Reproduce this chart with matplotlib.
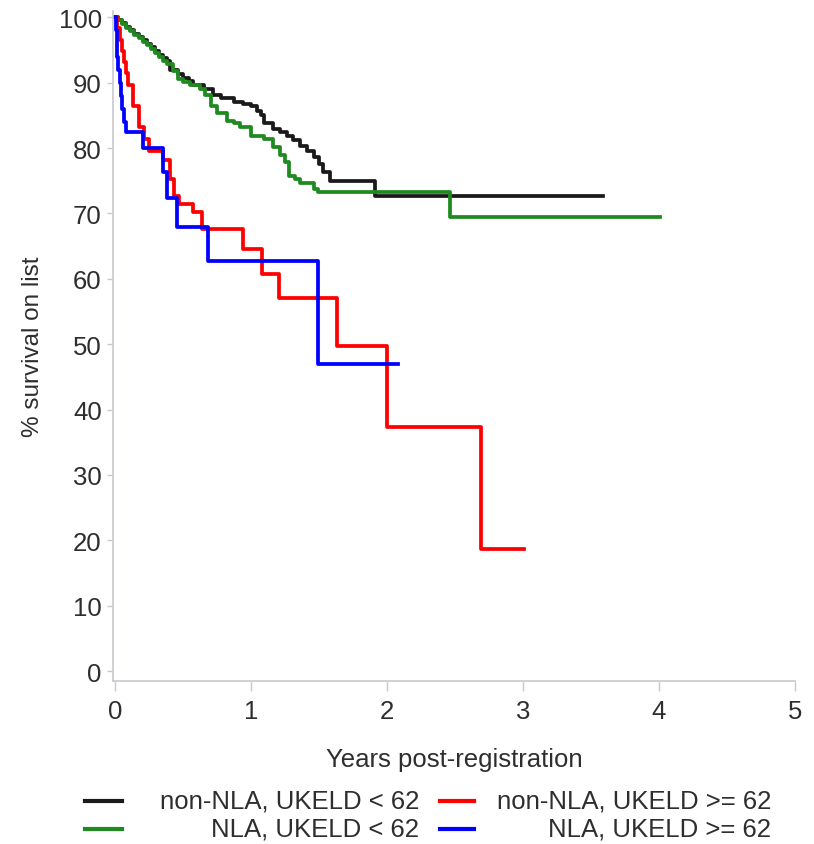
import matplotlib
matplotlib.use('Agg')
from matplotlib import pyplot as plt
from matplotlib.lines import Line2D

# Kaplan-Meier style step data (years, % survival)
black_t = [0, 0.02, 0.05, 0.08, 0.11, 0.14, 0.17, 0.20, 0.23, 0.26, 0.29, 0.32, 0.35, 0.38, 0.40,
           0.46, 0.50, 0.54, 0.57, 0.65, 0.72, 0.78, 0.87, 0.94, 1.00, 1.04, 1.07, 1.09, 1.16,
           1.21, 1.26, 1.31, 1.36, 1.41, 1.46, 1.50, 1.53, 1.58, 1.91, 3.59]
black_s = [100, 99.6, 99.1, 98.5, 98.0, 97.5, 97.0, 96.5, 96.0, 95.4, 94.9, 94.3, 93.8, 93.3, 91.9,
           91.4, 90.8, 90.2, 89.6, 89.1, 88.1, 87.6, 87.1, 86.8, 86.4, 85.7, 85.0, 83.8, 83.0,
           82.5, 81.9, 81.2, 80.4, 79.6, 78.7, 77.6, 76.4, 75.0, 72.7, 72.7]

green_t = [0, 0.02, 0.05, 0.08, 0.11, 0.14, 0.17, 0.20, 0.23, 0.26, 0.29, 0.32, 0.35, 0.38, 0.42,
           0.46, 0.50, 0.55, 0.62, 0.66, 0.70, 0.75, 0.82, 0.87, 0.92, 1.00, 1.09, 1.16, 1.21,
           1.25, 1.28, 1.32, 1.36, 1.46, 1.49, 2.46, 4.01]
green_s = [100, 99.6, 99.0, 98.4, 97.9, 97.3, 96.8, 96.2, 95.7, 95.1, 94.6, 94.0, 93.4, 92.8, 91.8,
           90.6, 90.1, 89.6, 89.1, 88.1, 86.5, 85.3, 84.2, 83.8, 83.3, 81.9, 81.4, 80.2, 78.9,
           77.9, 75.8, 75.2, 74.6, 73.8, 73.3, 69.5, 69.5]

red_t = [0, 0.015, 0.03, 0.045, 0.06, 0.075, 0.09, 0.13, 0.17, 0.21, 0.25, 0.35, 0.40, 0.43, 0.47,
         0.57, 0.64, 0.94, 1.08, 1.20, 1.63, 2.00, 2.69, 3.01]
red_s = [100, 98.3, 96.6, 94.9, 93.2, 91.5, 89.7, 86.5, 83.3, 81.4, 79.5, 78.2, 75.3, 72.6, 71.4,
         70.2, 67.7, 64.6, 60.8, 57.0, 49.8, 37.4, 18.7, 18.7]

blue_t = [0, 0.005, 0.01, 0.015, 0.02, 0.03, 0.04, 0.05, 0.06, 0.08, 0.20, 0.35, 0.38, 0.45,
          0.68, 1.49, 2.08]
blue_s = [100, 98, 96, 94, 92, 90, 88, 86, 84, 82.5, 80, 76.4, 72.3, 68, 62.8, 47, 47]

labels = ['non-NLA, UKELD < 62', 'NLA, UKELD < 62', 'non-NLA, UKELD >= 62', 'NLA, UKELD >= 62']
colors = ['#1a1a1a', '#1f8a1f', '#ff0000', '#0000ff']

x_ticks = [0, 1, 2, 3, 4, 5]
y_ticks = [0, 10, 20, 30, 40, 50, 60, 70, 80, 90, 100]

plt.rcParams['font.family'] = ['Liberation Sans', 'DejaVu Sans']
FS = 18.5

fig = plt.figure(figsize=(8.14, 8.45), dpi=100)
ax = fig.add_axes([0.1385, 0.193, 0.838, 0.793])

series = [(black_t, black_s), (green_t, green_s), (red_t, red_s), (blue_t, blue_s)]
for (t, s), c in zip(series, colors):
    ax.step(t, s, where='post', color=c, lw=2.7)

ax.set_xlim(-0.02, 5)
ax.set_ylim(-1.5, 101)
ax.set_xticks(x_ticks)
ax.set_yticks(y_ticks)
for sp in ['top', 'right']:
    ax.spines[sp].set_visible(False)
for sp in ['left', 'bottom']:
    ax.spines[sp].set_color('#c8cad0')
    ax.spines[sp].set_linewidth(1.2)
ax.tick_params(colors='#c8cad0', labelcolor='#2e2e2e', labelsize=FS, width=1)
ax.tick_params(axis='x', length=7, pad=6)
ax.tick_params(axis='y', length=4, pad=4)
ax.set_xlabel('Years post-registration', fontsize=FS, color='#2e2e2e')
ax.set_ylabel('% survival on list', fontsize=17.5, color='#2e2e2e')
# axes box is 682 x 670 px, spine corner at (113, 682) in pixels
ax.xaxis.set_label_coords((455 - 113) / 682, -(748 - 682) / 670)
ax.yaxis.set_label_coords(-(113 - 44) / 682, 0.5)

# legend, drawn by hand: text right aligned next to each handle
W, H = 814, 845
slots = [(85, 122, 419, 802), (85, 122, 419, 830), (440, 474, 771, 802), (440, 474, 771, 830)]
for (x0, x1, xt, y), lab, c in zip(slots, labels, colors):
    fig.add_artist(Line2D([x0 / W, x1 / W], [1 - y / H, 1 - y / H], color=c, lw=3))
    fig.text(xt / W, 1 - y / H, lab, ha='right', va='center', fontsize=FS, color='#2e2e2e')

fig.savefig('out.png', dpi=100)
